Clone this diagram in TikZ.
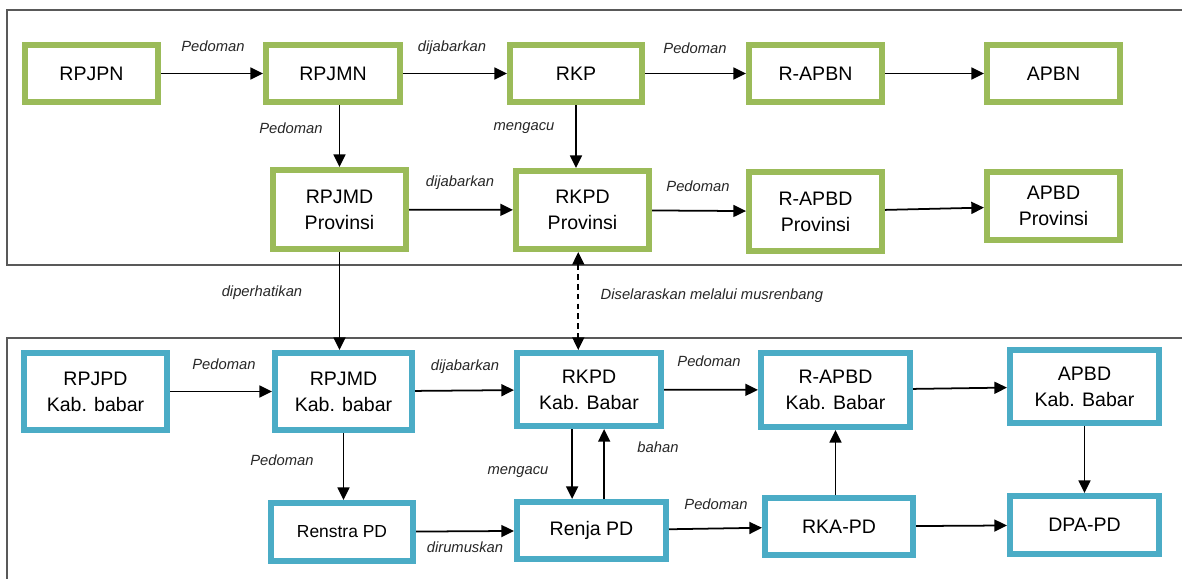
\documentclass[tikz,border=0pt]{standalone}
\usepackage{fontspec}
\setmainfont{Liberation Sans}
\usetikzlibrary{arrows.meta}
\definecolor{boxgreen}{RGB}{155,187,89}
\definecolor{boxblue}{RGB}{75,172,198}

\begin{document}
\begin{tikzpicture}[x=0.025cm, y=-0.025cm,
        sz/.style 2 args={minimum width={(#1-6)*0.025cm}, minimum height={(#2-6)*0.025cm}},
        gbox/.style={draw=boxgreen, line width=0.15cm, align=center, font=\fontsize{13.9}{18.5}\selectfont},
        bbox/.style={draw=boxblue, line width=0.15cm, align=center, font=\fontsize{13.9}{18.5}\selectfont},
        lbl/.style={font=\fontsize{10.5}{12}\selectfont\itshape, text=black!85, inner sep=1pt},
        arr/.style={line width=1.25pt, -{Triangle[length=9pt, width=8.5pt]}},
        frame/.style={draw=black!65, line width=1.2pt}]
        \useasboundingbox (0,0) rectangle (1182,579);
        \draw[frame] (1182,10) -- (7,10) -- (7,265) -- (1182,265);
        \draw[frame] (1182,338) -- (7,338) -- (7,579);

        \node[gbox, sz={139}{63}] (rpjpn) at (91.5,73.5) {RPJPN};
        \node[gbox, sz={140}{63}] (rpjmn) at (333,73.5) {RPJMN};
        \node[gbox, sz={138}{63}] (rkp) at (576,73.5) {RKP};
        \node[gbox, sz={139}{63}] (rapbn) at (815.5,73.5) {R-APBN};
        \node[gbox, sz={139}{63}] (apbn) at (1053.5,73.5) {APBN};
        \node[gbox, sz={139}{85}] (rpjmdprov) at (339.5,209.5) {RPJMD\\Provinsi};
        \node[gbox, sz={139}{84}] (rkpdprov) at (582.5,210) {RKPD\\Provinsi};
        \node[gbox, sz={139}{85}] (rapbdprov) at (815.5,211.5) {R-APBD\\Provinsi};
        \node[gbox, sz={139}{74}] (apbdprov) at (1053.5,206) {APBD\\Provinsi};

        \node[bbox, sz={149}{83}] (rpjpd) at (95.5,391.5) {RPJPD\\Kab. babar};
        \node[bbox, sz={143}{83}] (rpjmdkab) at (343.5,391.5) {RPJMD\\Kab. babar};
        \node[bbox, sz={150}{79}] (rkpdkab) at (589,389.5) {RKPD\\Kab. Babar};
        \node[bbox, sz={155}{80}] (rapbdkab) at (835.5,390) {R-APBD\\Kab. Babar};
        \node[bbox, sz={155}{79}] (apbdkab) at (1084.5,386.5) {APBD\\Kab. Babar};
        \node[bbox, sz={148}{64}, font=\fontsize{12.4}{15}\selectfont] (renstra) at (342,532) {Renstra PD};
        \node[bbox, sz={155}{63}] (renja) at (591.5,530.5) {Renja PD};
        \node[bbox, sz={154}{63}] (rkapd) at (839,526.5) {RKA-PD};
        \node[bbox, sz={155}{64}] (dpapd) at (1084.5,525) {DPA-PD};

        \draw[arr] (rpjpn) -- (rpjmn);
        \draw[arr] (rpjmn) -- (rkp);
        \draw[arr] (rkp) -- (rapbn);
        \draw[arr] (rapbn) -- (apbn);
        \draw[arr] (rpjmdprov) -- (rkpdprov);
        \draw[arr] (rkpdprov) -- (rapbdprov);
        \draw[arr] (rapbdprov) -- (apbdprov);
        \draw[arr] (rpjmn.south -| rpjmdprov) -- (rpjmdprov.north);
        \draw[arr] (rkp.south) -- (rkp.south |- rkpdprov.north);
        \draw[arr] (rpjmdprov.south) -- (rpjmdprov.south |- rpjmdkab.north);
        \draw[arr, {Triangle[length=9pt, width=8.5pt]}-{Triangle[length=9pt, width=8.5pt]}, dash pattern=on 4pt off 3pt] ([xshift=-3pt]rkpdprov.south) -- ([xshift=-3pt]rkpdprov.south |- rkpdkab.north);

        \draw[arr] (rpjpd) -- (rpjmdkab);
        \draw[arr] (rpjmdkab) -- (rkpdkab);
        \draw[arr] (rkpdkab) -- (rapbdkab);
        \draw[arr] (rapbdkab) -- (apbdkab);
        \draw[arr] (renstra) -- (renja);
        \draw[arr] (renja) -- (rkapd);
        \draw[arr] (rkapd) -- (dpapd);
        \draw[arr] (rpjmdkab.south) -- (rpjmdkab.south |- renstra.north);
        \draw[arr] ([xshift=-12pt]rkpdkab.south) -- ([xshift=-12pt]rkpdkab.south |- renja.north);
        \draw[arr] ([xshift=9pt]renja.north) -- ([xshift=9pt]renja.north |- rkpdkab.south);
        \draw[arr] (rapbdkab.south |- rkapd.north) -- (rapbdkab.south);
        \draw[arr] (apbdkab.south) -- (apbdkab.south |- dpapd.north);

        \node[lbl] (t1) at (213,46) {Pedoman};
        \node[lbl] (t2) at (452,48) {dijabarkan};
        \node[lbl] (t3) at (695,48) {Pedoman};
        \node[lbl] (t4) at (291,128) {Pedoman};
        \node[lbl] (t5) at (524,128) {mengacu};
        \node[lbl] (t6) at (460,183) {dijabarkan};
        \node[lbl] (t7) at (698,186) {Pedoman};
        \node[lbl] (t8) at (262,293) {diperhatikan};
        \node[lbl, anchor=west] (t9) at (599,296) {Diselaraskan melalui musrenbang};
        \node[lbl] (b1) at (224,364) {Pedoman};
        \node[lbl] (b2) at (465,367) {dijabarkan};
        \node[lbl] (b3) at (709,361) {Pedoman};
        \node[lbl] (b4) at (282,460) {Pedoman};
        \node[lbl] (b5) at (518,472) {mengacu};
        \node[lbl] (b6) at (465,547) {dirumuskan};
        \node[lbl] (b7) at (658,447) {bahan};
        \node[lbl] (b8) at (716,504) {Pedoman};
    \end{tikzpicture}
\end{document}
